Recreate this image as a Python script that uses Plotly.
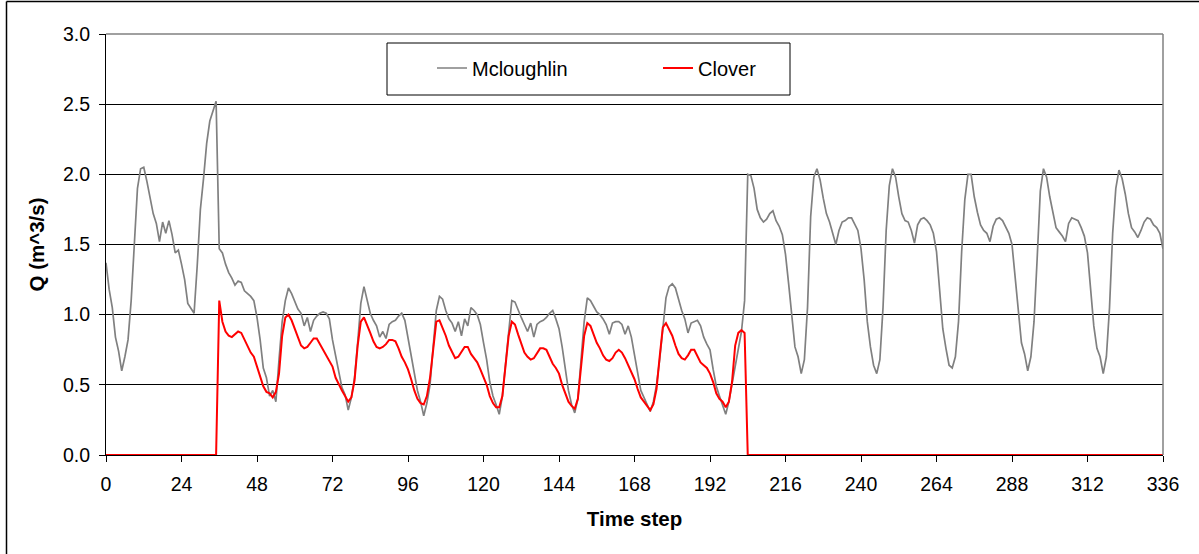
import plotly.graph_objects as go

# Hourly flow at the two stations over two weeks (336 time steps)
time_step = list(range(337))

mcloughlin = [
    1.37, 1.18, 1.05, 0.84, 0.74, 0.6, 0.7, 0.82, 1.1, 1.55,
    1.9, 2.04, 2.05, 1.95, 1.82, 1.72, 1.65, 1.52, 1.66, 1.58,
    1.67, 1.57, 1.44, 1.46, 1.36, 1.25, 1.08, 1.04, 1.01, 1.35,
    1.75, 1.97, 2.22, 2.38, 2.46, 2.52, 1.47, 1.44, 1.36, 1.3,
    1.26, 1.21, 1.24, 1.23, 1.17, 1.15, 1.13, 1.1, 0.98, 0.82,
    0.62, 0.55, 0.42, 0.46, 0.38, 0.68, 0.95, 1.1, 1.19, 1.15,
    1.1, 1.04, 1.01, 0.92, 0.98, 0.88, 0.96, 0.99, 1.01, 1.02,
    1.01, 0.97, 0.82, 0.7, 0.6, 0.48, 0.43, 0.32, 0.41, 0.55,
    0.8, 1.08, 1.2, 1.1, 1.01, 0.96, 0.92, 0.84, 0.88, 0.83,
    0.93, 0.95, 0.96, 0.99, 1.01, 0.96, 0.83, 0.72, 0.6, 0.46,
    0.38, 0.28, 0.37, 0.5, 0.77, 1.03, 1.13, 1.11, 1.03, 0.97,
    0.94, 0.88, 0.95, 0.85, 0.97, 0.92, 1.05, 1.03, 1.0, 0.93,
    0.8, 0.68, 0.52, 0.42, 0.36, 0.29, 0.42, 0.65, 0.92, 1.1,
    1.09, 1.03, 0.98, 0.93, 0.88, 0.94, 0.84, 0.93, 0.95, 0.96,
    0.98, 1.01, 1.03, 0.97, 0.9, 0.77, 0.6, 0.46, 0.36, 0.3,
    0.4, 0.65, 0.95, 1.12, 1.1, 1.06, 1.02, 1.0, 0.97, 0.93,
    0.86, 0.94, 0.95, 0.95, 0.93, 0.86, 0.92, 0.84, 0.72, 0.58,
    0.46, 0.41, 0.36, 0.31, 0.38, 0.5, 0.68, 0.9, 1.12, 1.2,
    1.22, 1.19, 1.1, 1.03, 0.97, 0.87, 0.94, 0.95, 0.96, 0.92,
    0.84, 0.79, 0.75, 0.61, 0.49, 0.42, 0.36, 0.29, 0.38, 0.5,
    0.64, 0.76, 0.88, 1.1, 2.0, 1.99, 1.9, 1.75, 1.69, 1.66,
    1.68, 1.72, 1.74, 1.67, 1.63, 1.57, 1.43, 1.22, 0.97, 0.77,
    0.7, 0.58, 0.68, 1.05, 1.7, 1.98, 2.04, 1.96, 1.83, 1.72,
    1.66, 1.58, 1.5, 1.6, 1.66, 1.67, 1.69, 1.69, 1.64, 1.6,
    1.47, 1.25, 0.95, 0.77, 0.64, 0.58, 0.68, 1.05, 1.6, 1.92,
    2.04, 1.98, 1.84, 1.72, 1.67, 1.66, 1.6, 1.51, 1.64, 1.68,
    1.69, 1.67, 1.64, 1.58, 1.45, 1.2, 0.9, 0.76, 0.64, 0.62,
    0.7, 0.95, 1.45, 1.82, 2.0, 2.0, 1.84, 1.73, 1.64, 1.6,
    1.58, 1.52, 1.63, 1.68, 1.69, 1.67, 1.63, 1.58, 1.5, 1.28,
    1.03, 0.8, 0.72, 0.6, 0.7, 0.95, 1.4, 1.88, 2.04, 1.98,
    1.84, 1.72, 1.62, 1.59, 1.56, 1.52, 1.65, 1.69, 1.68, 1.67,
    1.62, 1.56, 1.44, 1.2, 0.92, 0.76, 0.7, 0.58, 0.7, 1.05,
    1.58, 1.9, 2.03, 1.97, 1.86, 1.72, 1.62, 1.59, 1.55, 1.6,
    1.66, 1.69, 1.68, 1.64, 1.62, 1.58, 1.47,
]

# Clover carries no flow before step 36 and after step 203
clover = [0.0] * 36 + [
    1.1, 0.95, 0.88, 0.85,
    0.84, 0.86, 0.88, 0.87, 0.82, 0.77, 0.73, 0.7, 0.63, 0.55,
    0.49, 0.45, 0.44, 0.41, 0.45, 0.58, 0.85, 0.98, 1.0, 0.96,
    0.9, 0.83, 0.78, 0.76, 0.77, 0.8, 0.83, 0.83, 0.79, 0.74,
    0.7, 0.67, 0.63, 0.55, 0.5, 0.46, 0.42, 0.38, 0.41, 0.53,
    0.78, 0.95, 0.98, 0.93, 0.87, 0.81, 0.77, 0.76, 0.77, 0.79,
    0.82, 0.82, 0.81, 0.76, 0.7, 0.66, 0.61, 0.54, 0.46, 0.4,
    0.37, 0.36, 0.42, 0.55, 0.76, 0.95, 0.96, 0.91, 0.85, 0.78,
    0.73, 0.69, 0.7, 0.74, 0.77, 0.77, 0.72, 0.69, 0.66, 0.61,
    0.55, 0.5, 0.42, 0.37, 0.34, 0.34, 0.42, 0.62, 0.85, 0.95,
    0.93, 0.86, 0.8, 0.73, 0.7, 0.68, 0.69, 0.73, 0.76, 0.76,
    0.75, 0.7, 0.65, 0.62, 0.58, 0.5, 0.44, 0.38, 0.35, 0.33,
    0.4, 0.62, 0.85, 0.94, 0.92, 0.86, 0.8, 0.76, 0.71, 0.68,
    0.67, 0.69, 0.73, 0.75, 0.73, 0.69, 0.64, 0.59, 0.54, 0.47,
    0.41, 0.38, 0.35, 0.32, 0.36, 0.47, 0.7, 0.91, 0.94, 0.9,
    0.85, 0.78, 0.72, 0.69, 0.68, 0.71, 0.75, 0.75, 0.7, 0.66,
    0.64, 0.62, 0.58, 0.52, 0.44, 0.4, 0.38, 0.34, 0.38, 0.52,
    0.78, 0.87, 0.89, 0.87,
] + [0.0] * 133

x_ticks = [0, 24, 48, 72, 96, 120, 144, 168, 192, 216, 240, 264, 288, 312, 336]
y_ticks = [0.0, 0.5, 1.0, 1.5, 2.0, 2.5, 3.0]

FONT = "Liberation Sans, Arial, sans-serif"

fig = go.Figure()
fig.add_trace(go.Scatter(
    x=time_step, y=mcloughlin, mode="lines", name="Mcloughlin",
    line=dict(color="#808080", width=1.7), cliponaxis=False,
))
fig.add_trace(go.Scatter(
    x=time_step, y=clover, mode="lines", name="Clover",
    line=dict(color="#FF0000", width=2), cliponaxis=False,
))

# plot-area geometry in pixels
W, H = 1199, 554
L, R, T, B = 106, 36, 34, 99
pw, ph = W - L - R, H - T - B


def px(xp):
    return (xp - L) / pw


def py(yp):
    return (H - B - yp) / ph


shapes = [
    # grey frame on the top and right of the plot area
    dict(type="line", xref="paper", yref="paper", x0=0, x1=1, y0=1, y1=1,
         line=dict(color="#808080", width=1.5)),
    dict(type="line", xref="paper", yref="paper", x0=1, x1=1, y0=0, y1=1,
         line=dict(color="#808080", width=1.5)),
    # legend box
    dict(type="rect", xref="paper", yref="paper",
         x0=px(387), x1=px(790), y0=py(95), y1=py(43),
         line=dict(color="black", width=1), fillcolor="white", layer="above"),
    # outer chart frame
    dict(type="line", xref="paper", yref="paper",
         x0=px(6.5), x1=px(1205), y0=py(1.5), y1=py(1.5),
         line=dict(color="black", width=1.5)),
    dict(type="line", xref="paper", yref="paper",
         x0=px(6.5), x1=px(6.5), y0=py(1.5), y1=py(560),
         line=dict(color="black", width=1.5)),
]

fig.update_layout(
    width=W, height=H,
    margin=dict(l=L, r=R, t=T, b=B, autoexpand=False),
    paper_bgcolor="white", plot_bgcolor="white",
    font=dict(family=FONT, size=19.5, color="black"),
    shapes=shapes,
    showlegend=True,
    legend=dict(
        orientation="h", x=px(432), xanchor="left", y=py(68), yanchor="middle",
        bgcolor="rgba(0,0,0,0)", borderwidth=0,
        entrywidth=181, entrywidthmode="pixels",
        font=dict(family=FONT, size=20, color="black"),
    ),
    xaxis=dict(
        range=[0, 336], tickmode="array", tickvals=x_ticks,
        ticks="outside", ticklen=6, tickcolor="black", tickwidth=1,
        showline=True, linecolor="black", linewidth=1,
        showgrid=False, zeroline=False, layer="below traces",
        tickfont=dict(family=FONT, size=19.5), ticklabelstandoff=6,
        title=dict(text="<b>Time step</b>", font=dict(family=FONT, size=20.5), standoff=17),
    ),
    yaxis=dict(
        range=[0, 3], tickmode="array", tickvals=y_ticks, tickformat=".1f",
        ticks="outside", ticklen=6, tickcolor="black", tickwidth=1,
        showline=True, linecolor="black", linewidth=1,
        showgrid=True, gridcolor="black", gridwidth=1,
        zeroline=False, layer="below traces",
        tickfont=dict(family=FONT, size=19.5), ticklabelstandoff=5,
        title=dict(text="<b>Q (m^3/s)</b>", font=dict(family=FONT, size=20.5), standoff=12),
    ),
)

fig.write_html("out.html")
